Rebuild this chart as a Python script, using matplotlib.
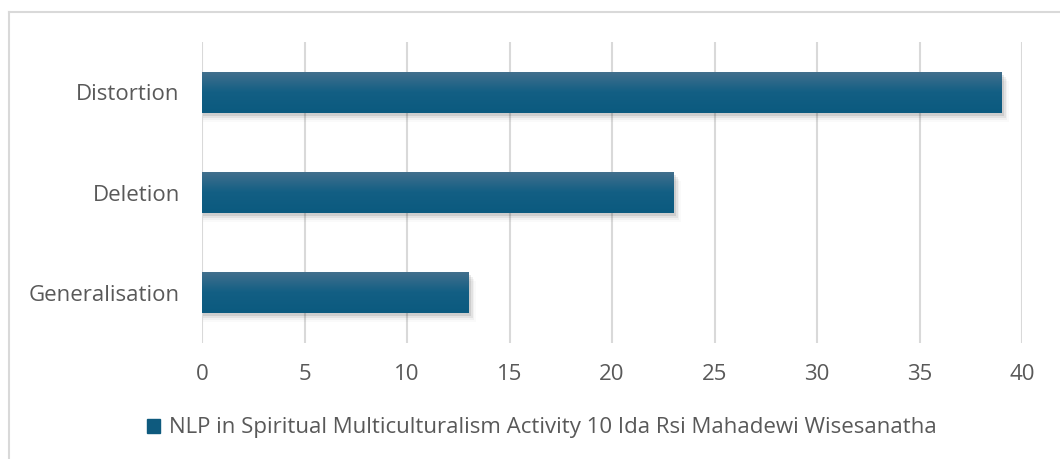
import matplotlib
matplotlib.use("Agg")
import matplotlib.pyplot as plt
import numpy as np
from matplotlib.colors import LinearSegmentedColormap
from matplotlib.patches import Rectangle
from matplotlib.lines import Line2D

categories = ["Generalisation", "Deletion", "Distortion"]
values = [13, 23, 39]
xticks = [0, 5, 10, 15, 20, 25, 30, 35, 40]
series_name = "NLP in Spiritual Multiculturalism Activity 10 Ida Rsi Mahadewi Wisesanatha"

plt.rcParams['font.family'] = ['Open Sans', 'DejaVu Sans']
text_color = "#595959"
grid_color = "#D9D9D9"
fs = 16

fig = plt.figure(figsize=(10.6, 4.59), dpi=100)
ax = fig.add_axes([202/1060, 1-343/459, 820/1060, 301/459])

bar_h = 0.41
y = np.arange(len(categories))
bars = ax.barh(y, values, height=bar_h, color="none", zorder=3)

cmap = LinearSegmentedColormap.from_list("g", ["#0B5A7F", "#135F84", "#44708D"])
grad = np.linspace(0, 1, 100).reshape(-1, 1)
for b in bars:
    x0, y0 = b.get_x(), b.get_y()
    w, h = b.get_width(), b.get_height()
    for i, a in enumerate([0.09, 0.06, 0.035, 0.02]):
        off = 0.03 + i * 0.02
        ax.add_patch(Rectangle((x0 + 0.05, y0 - off), w + 0.08 + i * 0.08, h, color="black",
                               alpha=a, lw=0, zorder=2))
    im = ax.imshow(grad, extent=[x0, x0 + w, y0, y0 + h], aspect="auto", cmap=cmap,
                   origin="lower", zorder=4)
    im.set_clip_path(b)

ax.set_xlim(0, 40)
ax.set_ylim(-0.5, len(categories) - 0.5)
ax.set_xticks(xticks)
ax.set_xticklabels([str(t) for t in xticks])
ax.set_yticks(y)
ax.set_yticklabels(categories)
ax.tick_params(axis="both", length=0, colors=text_color, labelsize=fs)
ax.tick_params(axis="x", pad=15)
ax.tick_params(axis="y", pad=16)
ax.grid(axis="x", color=grid_color, lw=1.5, zorder=0)
for s in ax.spines.values():
    s.set_visible(False)

fig.add_artist(Line2D([9/1060, 9/1060], [0, 1-12/459], color=grid_color, lw=1.5, transform=fig.transFigure))
fig.add_artist(Line2D([9/1060, 1], [1-12/459, 1-12/459], color=grid_color, lw=1.5, transform=fig.transFigure))

handle = Rectangle((0, 0), 1, 1, color="#0E5A7E")
fig.legend([handle], [series_name], loc="center", bbox_to_anchor=(542/1060, 1-428/459),
           frameon=False, fontsize=fs, labelcolor=text_color, handlelength=0.6,
           handleheight=0.6, handletextpad=0.4)

fig.savefig("out.png", dpi=100, facecolor="white")
